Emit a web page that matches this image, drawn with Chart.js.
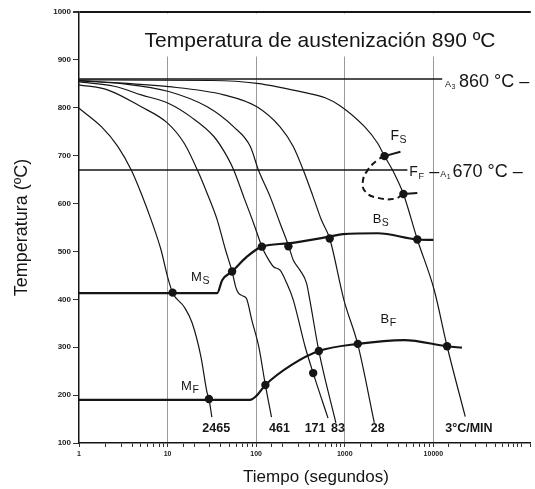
<!DOCTYPE html>
<html><head><meta charset="utf-8">
<script src="https://cdn.jsdelivr.net/npm/chart.js@4.4.0/dist/chart.umd.min.js"></script>
<style>html,body{margin:0;padding:0;background:#fff}#wrap{width:535px;height:489px}</style>
</head><body><div id="wrap"><canvas id="c" width="535" height="489"></canvas></div>
<script>
// ---- data (time in s, temperature in °C) ----
const xTickLabels = [1, 10, 100, 1000, 10000];
const gridTimes = [10, 100, 1000, 10000];
const gridTopTemp = 907;
const rateLabels = ['2465', '461', '171', '83', '28', '3°C/MIN'];

const t2465 = [1, 1.80, 2.75, 3.89, 5.04, 6.52, 8.44, 10, 11.4, 15.4, 18.9, 23.8, 27.9, 29.3, 31.6];
const T2465 = [799, 760, 719, 670, 621, 566, 503, 447, 414, 384, 351, 280, 205, 192, 154];

const t461 = [1, 2.13, 5.04, 10, 15.4, 21.7, 28.0, 36.3, 45.1, 53.5, 58.9, 63.1, 70.8, 78, 89.1, 107, 127, 149];
const T461 = [848, 837, 802, 768, 726, 670, 621, 566, 503, 458, 425, 413, 407, 401, 357, 301, 221, 154];

const t171 = [1, 2.5, 5.04, 10.3, 18.3, 33.3, 47.0, 55.8, 72.3, 93.5, 116, 132, 157, 186, 221, 262, 357, 440, 647];
const T171 = [854, 845, 827, 809, 781, 740, 698, 670, 614, 559, 510, 489, 468, 461, 434, 399, 301, 246, 152];

const t83 = [1, 3.2, 10.3, 28.0, 55.8, 85.9, 106, 144, 186, 231, 262, 312, 370, 403, 510, 794];
const T83 = [856, 850, 834, 802, 760, 719, 670, 614, 559, 513, 482, 461, 434, 399, 292, 142];

const t28 = [1, 10.3, 43.1, 102, 186, 262, 340, 440, 544, 676, 977, 1403, 2158];
const T28 = [857, 844, 827, 802, 760, 719, 670, 614, 566, 527, 399, 306, 142];

const t3 = [1, 31.6, 102, 370, 600, 875, 1663, 2350, 2812, 3459, 4592, 6592, 10210, 14290, 22910];
const T3 = [858, 857, 851, 831, 821, 805, 761, 726, 699, 670, 620, 525, 420, 302, 155];

const tMsBs = [1, 36.3, 41.3, 53.5, 78.7, 116, 231, 676, 953, 2345, 6592, 10000];
const TMsBs = [413, 413, 440, 458, 489, 510, 517, 531, 536, 538, 525, 524];

const tMfBf = [1, 85.1, 100, 127, 251, 510, 1403, 4677, 14290, 21000];
const TMfBf = [190, 190, 198, 221, 263, 292, 307, 315, 302, 299];

const tMsDots = [11.4, 53.5, 116, 231, 676, 6592];
const TMsDots = [414, 458, 510, 511, 527, 525];
const tMfDots = [29.3, 127, 440, 510, 1403, 14290];
const TMfDots = [192, 221, 246, 292, 307, 302];

const tFloop = [2812, 2349, 1815, 1595, 1722, 2349, 3640, 4592];
const TFloop = [699, 691, 670, 645, 624, 612, 610, 620];
const tFsTick = [2812, 4250], TFsTick = [699, 708];
const tFfTick = [4592, 6590], TFfTick = [620, 622];
const tFDots = [2812, 4592], TFDots = [699, 620];

const tA3 = [1, 12589], TA3 = [860, 860];
const tA1 = [1, 5090], TA1 = [670, 670];

// ---- helpers ----
const zip = (t, T) => t.map((v, i) => ({x: v, y: T[i]}));
const FONT = '"Liberation Sans", Arial, sans-serif';
const INK = '#151515';

const curve = (t, T, w) => ({data: zip(t, T), borderColor: INK, borderWidth: w || 1.2,
  pointRadius: 0, fill: false, cubicInterpolationMode: 'monotone'});
const dots = (t, T) => ({data: zip(t, T), showLine: false, pointRadius: 4.2,
  pointBackgroundColor: INK, pointBorderColor: INK, pointBorderWidth: 0});
const straight = (t, T, w) => ({data: zip(t, T), borderColor: INK, borderWidth: w, pointRadius: 0, tension: 0});

const datasets = [
  dots(tMsDots, TMsDots),
  dots(tMfDots, TMfDots),
  dots(tFDots, TFDots),
  curve(t2465, T2465), curve(t461, T461), curve(t171, T171),
  curve(t83, T83), curve(t28, T28), curve(t3, T3),
  curve(tMsBs, TMsBs, 2.2), curve(tMfBf, TMfBf, 2.2),
  {data: zip(tFloop, TFloop), borderColor: INK, borderWidth: 2, borderDash: [6, 4], pointRadius: 0, tension: 0.45},
  straight(tFsTick, TFsTick, 2), straight(tFfTick, TFfTick, 2),
  straight(tA3, TA3, 1.6), straight(tA1, TA1, 1.6)
];

function subText(ctx, x, y, main, sub, size, subSize, drop) {
  ctx.textAlign = 'left'; ctx.textBaseline = 'alphabetic';
  ctx.font = size + 'px ' + FONT;
  ctx.fillText(main, x, y);
  const w = ctx.measureText(main).width;
  ctx.font = subSize + 'px ' + FONT;
  ctx.fillText(sub, x + w + 0.5, y + drop);
  return x + w + 0.5 + ctx.measureText(sub).width;
}

const maskPlugin = {
  id: 'mask',
  beforeDatasetsDraw(chart) {
    const {ctx, chartArea: a, scales: {y}} = chart;
    ctx.save();
    ctx.fillStyle = '#fff';
    ctx.fillRect(a.left + 1, a.top + 1.5, a.right - a.left, y.getPixelForValue(gridTopTemp) - a.top - 1.5);
    ctx.restore();
  }
};

const notesPlugin = {
  id: 'notes',
  afterDatasetsDraw(chart) {
    const {ctx, scales: {x, y}} = chart;
    const X = v => x.getPixelForValue(v), Y = v => y.getPixelForValue(v);
    ctx.save();
    ctx.fillStyle = INK;
    // title
    ctx.font = '21px ' + FONT; ctx.textAlign = 'center'; ctx.textBaseline = 'alphabetic';
    ctx.fillText('Temperatura de austenización 890 ºC', X(526), Y(927));
    // x axis title
    ctx.font = '17px ' + FONT; ctx.textBaseline = 'middle';
    ctx.fillText('Tiempo (segundos)', 316, 477);
    // cooling-rate labels
    ctx.font = 'bold 12.5px ' + FONT; ctx.textAlign = 'center'; ctx.textBaseline = 'middle';
    const labT = [35.4, 183, 462, 837, 2350, 25180];
    rateLabels.forEach((s, i) => ctx.fillText(s, X(labT[i]), Y(131)));
    // phase labels
    subText(ctx, X(18.4), Y(438), 'M', 'S', 13, 10.5, 3);
    subText(ctx, X(14.2), Y(211), 'M', 'F', 13, 10.5, 3);
    subText(ctx, X(2065), Y(559.5), 'B', 'S', 13, 10.5, 3);
    subText(ctx, X(2536), Y(351), 'B', 'F', 13, 10.5, 3);
    subText(ctx, X(3281), Y(733), 'F', 'S', 14, 10.5, 3);
    subText(ctx, X(5358), Y(657.6), 'F', 'F', 14, 9, 3);
    // A3
    let xe = subText(ctx, X(13550), Y(843.4), 'A', '3', 9, 7, 2);
    ctx.font = '18px ' + FONT; ctx.textAlign = 'left';
    ctx.fillText('860 °C –', xe + 3.5, Y(843.4));
    // A1
    ctx.font = '18px ' + FONT;
    ctx.fillText('–', X(8974), Y(655.5));
    xe = subText(ctx, X(8974) + 11, Y(655.5), 'A', '1', 9, 7, 2);
    ctx.font = '18px ' + FONT;
    ctx.fillText('670 °C –', xe + 2, Y(655.5));
    ctx.restore();
  }
};

new Chart(document.getElementById('c'), {
  type: 'line',
  data: {datasets},
  options: {
    responsive: false, devicePixelRatio: 1, animation: false,
    layout: {padding: {top: 12, right: 0, left: 0, bottom: 0}},
    plugins: {legend: {display: false}, tooltip: {enabled: false}},
    scales: {
      x: {
        type: 'logarithmic', min: 1, max: 125893,
        afterFit: s => { s.height = 46; },
        border: {color: INK, width: 1.5},
        grid: {
          drawOnChartArea: true, tickLength: 4, tickColor: '#333',
          color: c => (c.tick && gridTimes.includes(c.tick.value)) ? '#9a9a9a' : 'rgba(0,0,0,0)',
          lineWidth: 1
        },
        ticks: {
          autoSkip: false, maxRotation: 0, padding: 3, color: '#222',
          font: {family: FONT, size: 7, weight: 'bold'},
          callback: v => xTickLabels.includes(v) ? String(v) : ''
        }
      },
      y: {
        min: 100, max: 1000,
        afterFit: s => { s.width = 79; },
        border: {color: INK, width: 1.5},
        grid: {
          tickLength: 6, tickColor: '#333',
          color: c => (c.tick && c.tick.value === 1000) ? INK : 'rgba(0,0,0,0)',
          lineWidth: c => (c.tick && c.tick.value === 1000) ? 2 : 1
        },
        ticks: {stepSize: 100, padding: 2, color: '#222', font: {family: FONT, size: 8, weight: 'bold'},
          callback: v => String(v)},
        title: {display: true, text: 'Temperatura (ºC)', color: INK,
          font: {family: FONT, size: 18}, padding: {top: 11, bottom: 0}}
      }
    }
  },
  plugins: [maskPlugin, notesPlugin]
});
</script></body></html>
